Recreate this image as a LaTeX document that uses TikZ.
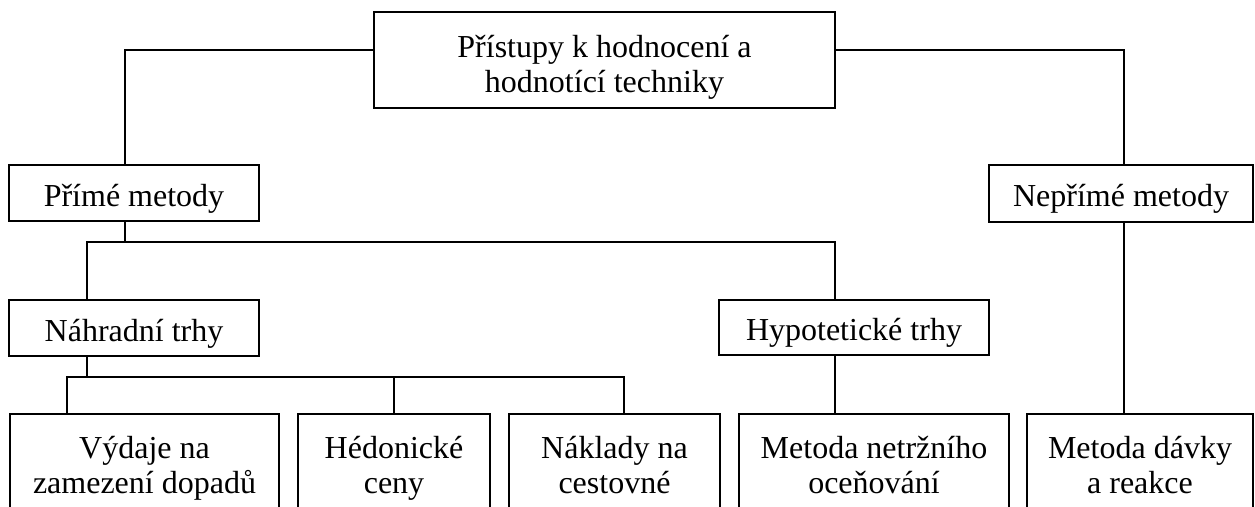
\documentclass[tikz,border=0pt]{standalone}
\usepackage{fontspec}
\setmainfont{Liberation Serif}
\tikzset{
  x=1pt,y=1pt,
  box/.style={draw=black, line width=1.6pt, rectangle, inner sep=0pt, align=center,
    font=\fontsize{32}{35}\selectfont},
  oneline/.style={box, text height=26pt, text depth=0pt},
  conn/.style={draw=black, line width=1.6pt}
}
\begin{document}
\begin{tikzpicture}
\useasboundingbox (0,0) rectangle (1255,-506);
\clip (0,0) rectangle (1255,-506);
% nodes
\node[box, minimum width=461, minimum height=96] (top) at (604.5,-60) {\rule{0pt}{39.5pt}Přístupy k hodnocení a\\\strut hodnotící techniky};
\node[oneline, minimum width=250, minimum height=56] (pm) at (134,-193) {Přímé metody};
\node[oneline, minimum width=264, minimum height=57] (np) at (1121,-193.5) {Nepřímé metody};
\node[oneline, minimum width=250, minimum height=56] (nt) at (134,-328) {Náhradní trhy};
\node[oneline, minimum width=270, minimum height=55] (ht) at (854,-327.5) {Hypotetické trhy};
\node[box, minimum width=269, minimum height=109] (v) at (144.5,-468.5) {\strut Výdaje na\\\strut zamezení dopadů};
\node[box, minimum width=192, minimum height=109] (h) at (394,-468.5) {\strut Hédonické\\\strut ceny};
\node[box, minimum width=211, minimum height=109] (n) at (614.5,-468.5) {\strut Náklady na\\\strut cestovné};
\node[box, minimum width=270, minimum height=109] (m) at (874,-468.5) {\strut Metoda netržního\\\strut oceňování};
\node[box, minimum width=226, minimum height=109] (d) at (1140,-468.5) {\strut Metoda dávky\\\strut a reakce};
% junction coordinates
\coordinate (a1) at (125,-50);
\coordinate (a2) at (1124,-50);
\coordinate (b1) at (125,-242);
\coordinate (b2) at (87,-242);
\coordinate (b3) at (835,-242);
\coordinate (c0) at (87,-377);
\coordinate (c1) at (67,-377);
\coordinate (c2) at (394,-377);
\coordinate (c3) at (624,-377);
% connectors
\draw[conn] (top.west |- a1) -- (a1) -- (a1 |- pm.north);
\draw[conn] (top.east |- a2) -- (a2) -- (a2 |- np.north);
\draw[conn] (a2 |- np.south) -- (a2 |- d.north);
\draw[conn] (b1 |- pm.south) -- (b1);
\draw[conn] (b2 |- nt.north) -- (b2) -- (b3) -- (b3 |- ht.north);
\draw[conn] (b3 |- ht.south) -- (b3 |- m.north);
\draw[conn] (c0 |- nt.south) -- (c0);
\draw[conn] (c1 |- v.north) -- (c1) -- (c3) -- (c3 |- n.north);
\draw[conn] (c2) -- (c2 |- h.north);
\end{tikzpicture}
\end{document}
